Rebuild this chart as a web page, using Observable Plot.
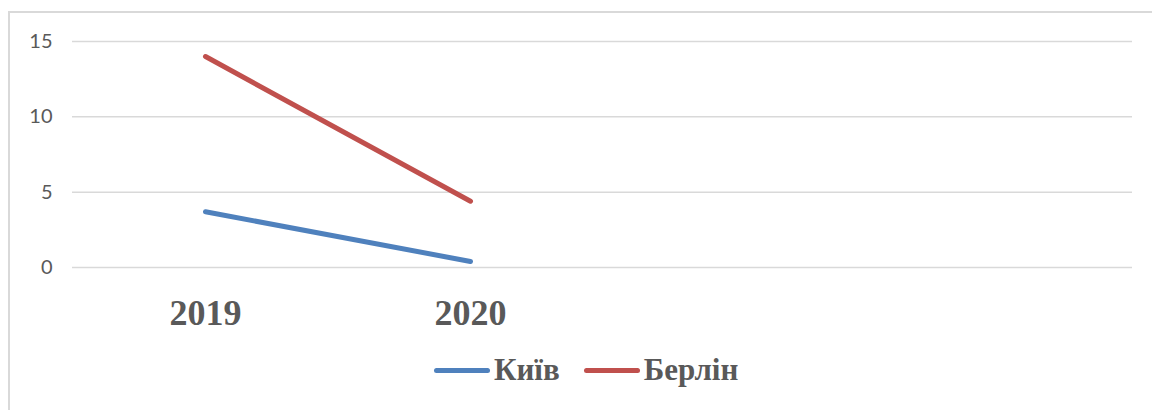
<!DOCTYPE html>
<html>
<head>
<meta charset="utf-8">
<script src="https://cdn.jsdelivr.net/npm/d3@7"></script>
<script src="https://cdn.jsdelivr.net/npm/@observablehq/plot@0.6"></script>
<style>
  html, body { margin: 0; padding: 0; background: #fff; width: 1152px; height: 410px; overflow: hidden; }
  #frame { position: absolute; left: 8px; top: 11px; width: 1160px; height: 420px; border: 2px solid #d9d9d9; box-sizing: border-box; }
  #chart { position: absolute; left: 0; top: 0; }
  #legend { position: absolute; left: 434px; top: 352px; display: flex; align-items: center;
            font-family: "Liberation Serif", "Times New Roman", serif; font-weight: bold; font-size: 31px; color: #595959; }
  .item { display: flex; align-items: center; margin-right: 24px; }
  .swatch { width: 56px; height: 5px; border-radius: 3px; margin-right: 4px; }
</style>
</head>
<body>
<div id="frame"></div>
<div id="chart"></div>
<div id="legend"></div>
<script>
// Data
const years = ["2019", "2020"];
const xSlots = ["2019", "2020", "slot3", "slot4"]; // empty category slots on the axis
const seriesNames = ["Київ", "Берлін"];
const kyiv = [3.7, 0.4];
const berlin = [14.0, 4.4];
const colors = ["#4F81BD", "#C0504D"];
const yTicks = [0, 5, 10, 15];

const rows = [];
years.forEach((y, i) => {
  rows.push({year: y, series: seriesNames[0], value: kyiv[i]});
  rows.push({year: y, series: seriesNames[1], value: berlin[i]});
});

const plot = Plot.plot({
  width: 1152,
  height: 340,
  marginTop: 41,
  marginBottom: 73,
  marginLeft: 72,
  marginRight: 20,
  style: {background: "transparent"},
  x: {type: "point", domain: xSlots, padding: 0.5},
  y: {domain: [0, 15]},
  color: {domain: seriesNames, range: colors},
  marks: [
    Plot.gridY(yTicks, {stroke: "#d9d9d9", strokeOpacity: 1, strokeWidth: 1.5}),
    Plot.axisY(yTicks, {tickSize: 0, tickPadding: 20, fontSize: 20, fontFamily: "Lato, 'Open Sans', sans-serif", color: "#595959", label: null}),
    Plot.axisX(years, {tickSize: 0, tickPadding: 32, fontSize: 36, fontWeight: "bold", fontFamily: "'Liberation Serif', 'Times New Roman', serif", color: "#595959", label: null}),
    Plot.line(rows, {x: "year", y: "value", z: "series", stroke: "series", strokeWidth: 5, strokeLinecap: "round", strokeLinejoin: "round"})
  ]
});
document.getElementById("chart").appendChild(plot);

const legend = document.getElementById("legend");
seriesNames.forEach((name, i) => {
  const item = document.createElement("div");
  item.className = "item";
  const sw = document.createElement("div");
  sw.className = "swatch";
  sw.style.background = colors[i];
  const label = document.createElement("span");
  label.textContent = name;
  item.appendChild(sw);
  item.appendChild(label);
  legend.appendChild(item);
});
</script>
</body>
</html>
